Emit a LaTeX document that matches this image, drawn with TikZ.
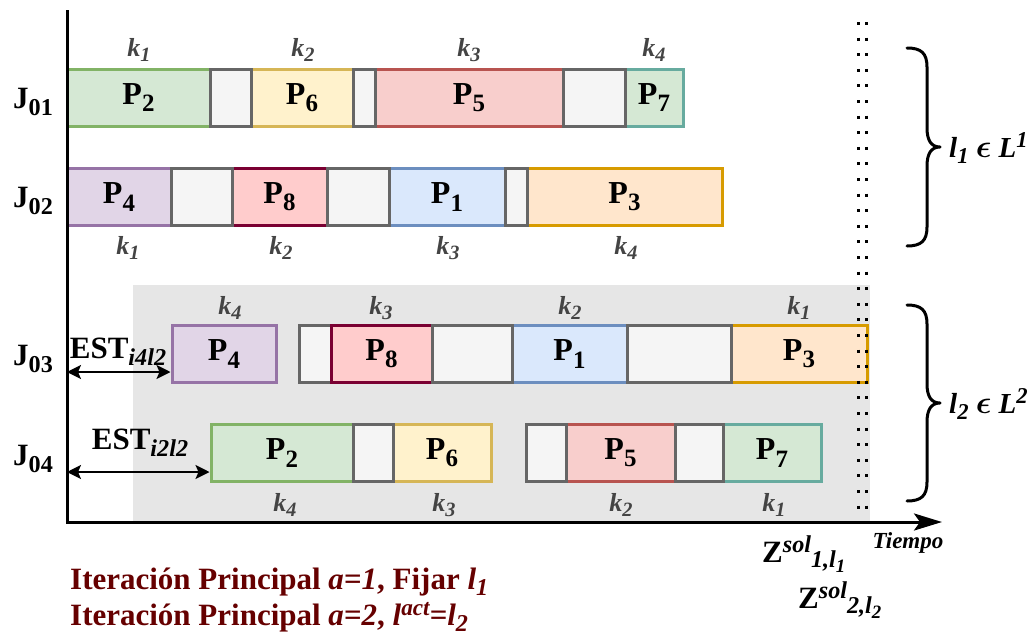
\documentclass[tikz,border=0pt]{standalone}
\usepackage{fontspec}
\setmainfont{Liberation Serif}
\usepackage{graphicx}
\usetikzlibrary{arrows.meta}

\newcommand\sbs[1]{\raisebox{-0.22em}{\scalebox{0.78}{#1}}}
\newcommand\sps[1]{\raisebox{0.36em}{\scalebox{0.78}{#1}}}
\newcommand\zsb[1]{\raisebox{-0.18em}{\scalebox{0.78}{#1}}}
\newcommand\zsp[1]{\raisebox{0.3em}{\scalebox{0.78}{#1}}}
\newcommand\fP{\fontsize{32}{36}\selectfont\bfseries}
\newcommand\fJ{\fontsize{31}{35}\selectfont\bfseries}
\newcommand\fK{\fontsize{26}{30}\selectfont\bfseries\itshape}
\newcommand\fB{\fontsize{31}{35}\selectfont\bfseries}
\newcommand\fZ{\fontsize{31}{35}\selectfont\bfseries}

\definecolor{bggray}{HTML}{E6E6E6}
\definecolor{gapfill}{HTML}{F5F5F5}
\definecolor{gapline}{HTML}{666666}
\definecolor{grF}{HTML}{D5E8D4}\definecolor{grS}{HTML}{82B366}
\definecolor{yeF}{HTML}{FFF2CC}\definecolor{yeS}{HTML}{D6B656}
\definecolor{reF}{HTML}{F8CECC}\definecolor{reS}{HTML}{B85450}
\definecolor{tlS}{HTML}{67AB9F}
\definecolor{puF}{HTML}{E1D5E7}\definecolor{puS}{HTML}{9673A6}
\definecolor{pkF}{HTML}{FFCCCC}\definecolor{pkS}{HTML}{7A0032}
\definecolor{blF}{HTML}{DAE8FC}\definecolor{blS}{HTML}{6C8EBF}
\definecolor{orF}{HTML}{FFE6CC}\definecolor{orS}{HTML}{D79B00}
\definecolor{kgray}{HTML}{444444}
\definecolor{dred}{HTML}{660000}

\tikzset{
  jbox/.style={line width=3pt, minimum height=57, inner sep=0, font=\fP, text=black},
  gapbox/.style={jbox, draw=gapline, fill=gapfill},
  klab/.style={font=\fK, text=kgray, inner sep=0},
  jlab/.style={font=\fJ, inner sep=0},
  axisline/.style={line width=3pt, line join=miter},
  dotline/.style={line width=3pt, dash pattern=on 3pt off 12.6pt},
  estarrow/.style={line width=2pt, {Stealth[length=14pt,width=14pt,inset=3pt]}-{Stealth[length=14pt,width=14pt,inset=3pt]}},
  bracestyle/.style={line width=3pt, line cap=round, line join=round},
  llab/.style={anchor=west, inner sep=0, font=\fontsize{29}{33}\selectfont\bfseries\itshape},
}

\newcommand\jb[7]{\node[jbox, draw=#5, fill=#6, minimum width={#3-#2}] (#1) at ({(#2+#3)/2},#4) {#7};}
\newcommand\gb[4]{\node[gapbox, minimum width={#3-#2}] (#1) at ({(#2+#3)/2},#4) {};}

\begin{document}
\begin{tikzpicture}[x=1pt,y=-1pt]
\useasboundingbox (0,0) rectangle (1032,637);

% background region
\fill[bggray] (133,285) rectangle (870,522);

% Row J01
\jb{r1p2}{67}{210}{98}{grS}{grF}{P\sbs{2}}
\jb{r1p6}{251}{353}{98}{yeS}{yeF}{P\sbs{6}}
\jb{r1p5}{375}{563}{98}{reS}{reF}{P\sbs{5}}
\jb{r1p7}{625}{683}{98}{tlS}{grF}{P\sbs{7}}
\gb{r1g1}{210}{251}{98}
\gb{r1g2}{353}{375}{98}
\gb{r1g3}{563}{625}{98}

% Row J02
\jb{r2p4}{67}{171}{197}{puS}{puF}{P\sbs{4}}
\jb{r2p8}{232}{327}{197}{pkS}{pkF}{P\sbs{8}}
\jb{r2p1}{389}{505}{197}{blS}{blF}{P\sbs{1}}
\jb{r2p3}{527}{722}{197}{orS}{orF}{P\sbs{3}}
\gb{r2g1}{171}{232}{197}
\gb{r2g2}{327}{389}{197}
\gb{r2g3}{505}{527}{197}

% Row J03
\jb{r3p4}{172}{276}{354}{puS}{puF}{P\sbs{4}}
\gb{r3g1}{299}{331}{354}
\jb{r3p8}{331}{432}{354}{pkS}{pkF}{P\sbs{8}}
\jb{r3p1}{512}{627}{354}{blS}{blF}{P\sbs{1}}
\jb{r3p3}{731}{867}{354}{orS}{orF}{P\sbs{3}}
\gb{r3g2}{432}{512}{354}
\gb{r3g3}{627}{731}{354}

% Row J04
\jb{r4p2}{211}{353}{453}{grS}{grF}{P\sbs{2}}
\jb{r4p6}{393}{491}{453}{yeS}{yeF}{P\sbs{6}}
\jb{r4p5}{566}{675}{453}{reS}{reF}{P\sbs{5}}
\jb{r4p7}{723}{821}{453}{tlS}{grF}{P\sbs{7}}
\gb{r4g1}{353}{393}{453}
\gb{r4g2}{526}{566}{453}
\gb{r4g3}{675}{723}{453}

% k labels
\node[klab] (k11) at (139,50) {k\sbs{1}};
\node[klab] (k12) at (303,50) {k\sbs{2}};
\node[klab] (k13) at (469,50) {k\sbs{3}};
\node[klab] (k14) at (654,50) {k\sbs{4}};
\node[klab] (k21) at (128,248) {k\sbs{1}};
\node[klab] (k22) at (281,248) {k\sbs{2}};
\node[klab] (k23) at (448,248) {k\sbs{3}};
\node[klab] (k24) at (626,248) {k\sbs{4}};
\node[klab] (k34) at (230,308) {k\sbs{4}};
\node[klab] (k33) at (381,308) {k\sbs{3}};
\node[klab] (k32) at (570,308) {k\sbs{2}};
\node[klab] (k31) at (799,308) {k\sbs{1}};
\node[klab] (k44) at (285,505) {k\sbs{4}};
\node[klab] (k43) at (444,505) {k\sbs{3}};
\node[klab] (k42) at (621,505) {k\sbs{2}};
\node[klab] (k41) at (774,505) {k\sbs{1}};

% J labels
\node[jlab] (j1) at (33,102) {J\sbs{01}};
\node[jlab] (j2) at (33,201) {J\sbs{02}};
\node[jlab] (j3) at (33,359) {J\sbs{03}};
\node[jlab] (j4) at (33,459) {J\sbs{04}};

% dotted limit lines
\draw[dotline] (858,22) -- (858,522);
\draw[dotline] (866,22) -- (866,522);

% axes
\coordinate (ytop) at (67,10);
\coordinate (orig) at (67,522);
\coordinate (xend) at (942,522);
\draw[axisline, -{Stealth[length=28pt,width=17pt,inset=6pt]}] (ytop) -- (orig) -- (xend);
\node[font=\fontsize{23}{26}\selectfont\bfseries\itshape, inner sep=0] (tiempo) at (908,543) {Tiempo};

% EST arrows
\coordinate (e3) at (67,372);
\coordinate (e4) at (67,472);
\draw[estarrow] (e3) -- (e3 -| r3p4.west);
\draw[estarrow] (e4) -- (e4 -| r4p2.west);
\node[font=\fJ, inner sep=0] (est3) at (118,352) {EST\sbs{\textit{i4l2}}};
\node[font=\fJ, inner sep=0] (est4) at (140,443) {EST\sbs{\textit{i2l2}}};

% braces
\draw[bracestyle] (907,48) .. controls (921,48) and (927,53) .. (927,67) -- (927,128)
  .. controls (927,140) and (931,147) .. (940,147)
  .. controls (931,147) and (927,154) .. (927,166) -- (927,227)
  .. controls (927,241) and (921,246) .. (907,246);
\draw[bracestyle] (907,305) .. controls (921,305) and (927,310) .. (927,324) -- (927,384)
  .. controls (927,396) and (931,403) .. (940,403)
  .. controls (931,403) and (927,410) .. (927,422) -- (927,482)
  .. controls (927,496) and (921,501) .. (907,501);
\node[llab] (L1) at (949,148) {l\sbs{1} \scalebox{1.3}{\boldmath$\epsilon$} L\sps{1}};
\node[llab] (L2) at (949,404) {l\sbs{2} \scalebox{1.3}{\boldmath$\epsilon$} L\sps{2}};

% Z labels
\node[anchor=base west, inner sep=0, font=\fZ] (z1) at (762,562) {Z\zsp{\textit{sol}}\zsb{\textit{1,l\sbs{1}}}};
\node[anchor=base west, inner sep=0, font=\fZ] (z2) at (798,608) {Z\zsp{\textit{sol}}\zsb{\textit{2,l\sbs{2}}}};

% bottom text
\node[anchor=base west, inner sep=0, font=\fB, text=dred] (it1) at (70,589) {Iteración Principal \textit{a=1}, Fijar \textit{l\sbs{1}}};
\node[anchor=base west, inner sep=0, font=\fB, text=dred] (it2) at (70,625) {Iteración Principal \textit{a=2}, \textit{l\raisebox{0.3em}{\scalebox{0.75}{act}}=l\sbs{2}}};
\end{tikzpicture}
\end{document}
